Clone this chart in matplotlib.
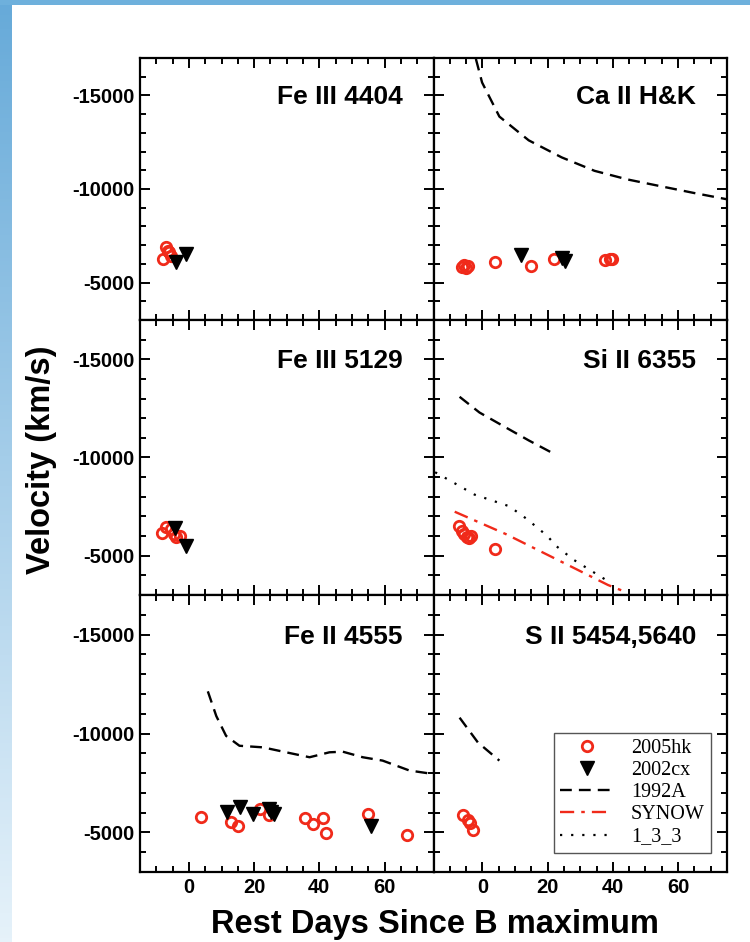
import numpy as np
import matplotlib
matplotlib.use("Agg")
from matplotlib import pyplot as plt
from matplotlib.lines import Line2D
from matplotlib.ticker import MultipleLocator
from matplotlib.colors import LinearSegmentedColormap

plt.rcParams['font.family'] = ['Liberation Sans', 'DejaVu Sans']
plt.rcParams['axes.unicode_minus'] = False

RED = '#f02a1a'

# panel titles, row by row
titles = ['Fe III 4404', 'Ca II H&K', 'Fe III 5129', 'Si II 6355',
          'Fe II 4555', 'S II 5454,5640']

# Fe III 4404
fe3a_hk_day = [-8.0, -7.1, -6.5, -6.1, -5.6]
fe3a_hk_vel = [-6240, -6880, -6700, -6610, -6400]
fe3a_cx_day = [-4.1, -1.0]
fe3a_cx_vel = [-6100, -6550]

# Ca II H&K
ca_hk_day = [-6.2, -5.6, -5.0, -4.4, 3.9, 14.8, 21.8, 37.5, 39.0, 39.8]
ca_hk_vel = [-5850, -5950, -5800, -5900, -6100, -5880, -6240, -6210, -6240, -6240]
ca_cx_day = [11.7, 24.3, 25.2]
ca_cx_vel = [-6450, -6300, -6150]
ca_92a_day = [-2.0, -0.1, 5.2, 14.2, 24.3, 34.4, 44.5, 54.6, 64.8, 75.0]
ca_92a_vel = [-16950, -15690, -13870, -12600, -11690, -10970, -10510, -10150, -9790, -9450]

# Fe III 5129
fe3b_hk_day = [-8.3, -6.9, -5.4, -4.6, -3.9, -2.8]
fe3b_hk_vel = [-6180, -6440, -6350, -6100, -5930, -6020]
fe3b_cx_day = [-4.4, -1.0]
fe3b_cx_vel = [-6400, -5470]

# Si II 6355
si_hk_day = [-7.2, -6.2, -5.5, -4.8, -4.0, -3.5, 3.9]
si_hk_vel = [-6520, -6250, -6100, -5950, -5900, -6000, -5330]
si_92a_day = [-7.0, -0.9, 6.2, 14.2, 21.8]
si_92a_vel = [-13090, -12290, -11620, -10870, -10200]
si_synow_day = [-8.5, 7.2, 19.3, 27.4, 38.5, 43.5]
si_synow_vel = [-7240, -6100, -5100, -4430, -3510, -3180]
si_133_day = [-14.5, -8.0, -2.4, 8.2, 13.7, 19.8, 22.8, 27.9, 33.4, 39.5]
si_133_vel = [-9250, -8640, -8110, -7520, -6860, -6020, -5470, -4800, -4230, -3600]

# Fe II 4555
fe2_hk_day = [3.8, 12.8, 15.0, 21.9, 24.5, 35.7, 38.0, 41.0, 42.1, 54.9, 66.8]
fe2_hk_vel = [-5800, -5550, -5350, -6180, -5880, -5750, -5420, -5720, -4970, -5920, -4850]
fe2_cx_day = [11.8, 15.8, 19.8, 24.7, 25.2, 26.2, 55.9]
fe2_cx_vel = [-6020, -6300, -5920, -6170, -6020, -5920, -5300]
fe2_92a_day = [5.8, 8.4, 11.4, 15.5, 22.7, 29.8, 37.0, 43.1, 47.2, 53.3, 59.4, 67.6, 75.0]
fe2_92a_vel = [-12130, -10880, -9880, -9380, -9300, -9050, -8800, -9050, -9080, -8800, -8630, -8130, -7950]

# S II 5454,5640
s2_hk_day = [-6.0, -4.5, -3.7, -2.9]
s2_hk_vel = [-5880, -5630, -5460, -5130]
s2_92a_day = [-7.0, -1.4, 5.2]
s2_92a_vel = [-10800, -9550, -8630]

panels = [
    dict(hk=(fe3a_hk_day, fe3a_hk_vel), cx=(fe3a_cx_day, fe3a_cx_vel)),
    dict(hk=(ca_hk_day, ca_hk_vel), cx=(ca_cx_day, ca_cx_vel), a92=(ca_92a_day, ca_92a_vel)),
    dict(hk=(fe3b_hk_day, fe3b_hk_vel), cx=(fe3b_cx_day, fe3b_cx_vel)),
    dict(hk=(si_hk_day, si_hk_vel), a92=(si_92a_day, si_92a_vel),
         synow=(si_synow_day, si_synow_vel), m133=(si_133_day, si_133_vel)),
    dict(hk=(fe2_hk_day, fe2_hk_vel), cx=(fe2_cx_day, fe2_cx_vel), a92=(fe2_92a_day, fe2_92a_vel)),
    dict(hk=(s2_hk_day, s2_hk_vel), a92=(s2_92a_day, s2_92a_vel)),
]

hk_style = dict(ls='none', marker='o', ms=7.5, mfc='none', mec=RED, mew=2)
cx_style = dict(ls='none', marker='v', ms=9.5, color='black')
a92_style = dict(color='black', lw=1.7, ls=(0, (5, 3)))
synow_style = dict(color=RED, lw=1.7, ls=(0, (6, 3, 1.5, 3)))
m133_style = dict(color='black', lw=1.6, ls=(0, (1, 4)))

fig = plt.figure(figsize=(7.5, 9.42), dpi=100)

# slide background strips (left + top)
bg = fig.add_axes([0, 0, 12 / 750, 1])
grad = np.linspace(0, 1, 256).reshape(-1, 1)
cm = LinearSegmentedColormap.from_list('slide', ['#66aad9', '#e6f2fa'])
bg.imshow(grad, aspect='auto', cmap=cm, extent=[0, 1, 0, 1], origin='upper')
bg.axis('off')
top = fig.add_axes([0, 1 - 5 / 942, 1, 5 / 942])
top.set_facecolor('#6eb0dc')
top.set_xticks([]); top.set_yticks([])
for s in top.spines.values():
    s.set_visible(False)

gs = fig.add_gridspec(3, 2, left=140 / 750, right=727 / 750, top=1 - 58 / 942,
                      bottom=1 - 872 / 942, hspace=0, wspace=0,
                      height_ratios=[262, 275, 277])

for i, p in enumerate(panels):
    r, c = divmod(i, 2)
    ax = fig.add_subplot(gs[r, c])
    if 'm133' in p:
        ax.plot(*p['m133'], **m133_style)
    if 'synow' in p:
        ax.plot(*p['synow'], **synow_style)
    if 'a92' in p:
        ax.plot(*p['a92'], **a92_style)
    ax.plot(*p['hk'], **hk_style)
    if 'cx' in p:
        ax.plot(*p['cx'], **cx_style)

    ax.set_xlim(-15, 75)
    ax.set_ylim(-3000, -17000)
    ax.xaxis.set_major_locator(MultipleLocator(20))
    ax.xaxis.set_minor_locator(MultipleLocator(5))
    ax.yaxis.set_major_locator(MultipleLocator(5000))
    ax.yaxis.set_minor_locator(MultipleLocator(1000))
    ax.tick_params(which='both', direction='in', top=True, right=True, width=1.4)
    ax.tick_params(which='major', length=7, labelsize=14.5, pad=4)
    ax.tick_params(which='minor', length=4)
    for s in ax.spines.values():
        s.set_linewidth(1.6)
    for lab in ax.get_xticklabels() + ax.get_yticklabels():
        lab.set_fontweight('bold')
    if c == 1:
        ax.set_yticklabels([])
    if r < 2:
        ax.set_xticklabels([])
    ax.text(0.895, 0.85, titles[i], transform=ax.transAxes, ha='right', va='center',
            fontsize=19, fontweight='bold')

    if i == 5:
        handles = [Line2D([], [], **hk_style), Line2D([], [], **cx_style),
                   Line2D([], [], **a92_style), Line2D([], [], **synow_style),
                   Line2D([], [], **m133_style)]
        labels = ['2005hk', '2002cx', '1992A', 'SYNOW', '1_3_3']
        ax.legend(handles, labels, loc='lower right', bbox_to_anchor=(0.945, 0.07),
                  prop={'family': 'Liberation Serif', 'size': 14.5},
                  fancybox=False, edgecolor='#555555', framealpha=1,
                  handlelength=2.6, handletextpad=0.9, labelspacing=0.15,
                  borderpad=0.3, borderaxespad=0)

fig.text(0.056, 0.512, 'Velocity (km/s)', rotation=90, ha='center', va='center',
         fontsize=23.5, fontweight='bold')
fig.text(0.58, 0.019, 'Rest Days Since B maximum', ha='center', va='center',
         fontsize=23.5, fontweight='bold')

fig.savefig('out.png', dpi=100)
